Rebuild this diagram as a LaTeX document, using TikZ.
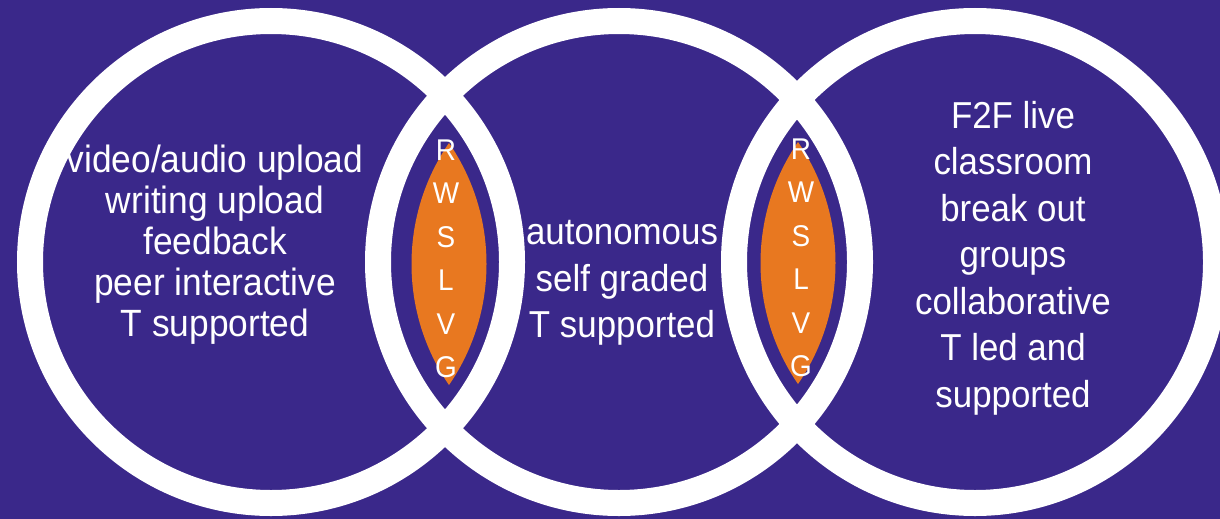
\documentclass[tikz,border=0pt]{standalone}
\usepackage{fontspec}
\setmainfont{Liberation Sans}[FakeStretch=0.93]
\definecolor{bgpurple}{RGB}{58,40,138}
\definecolor{lensorange}{RGB}{232,120,32}
\begin{document}
\begin{tikzpicture}[x=1pt,y=-1pt,
  ring/.style={draw=white,line width=26pt},
  txt/.style={text=white,align=center,inner sep=0pt},
  bigtxt/.style={txt,font=\fontsize{38}{41}\selectfont},
  midtxt/.style={txt,font=\fontsize{37.5}{46.5}\selectfont},
  lettxt/.style={txt,font=\fontsize{30}{43.5}\selectfont}]
\fill[bgpurple] (0,0) rectangle (1220,519);
\useasboundingbox (0,0) rectangle (1220,519);
% orange lenses
\begin{scope}
  \clip (449-176.5,264) circle (214);
  \fill[lensorange] (449+176.5,264) circle (214);
\end{scope}
\begin{scope}
  \clip (798-176.5,263) circle (214);
  \fill[lensorange] (798+176.5,263) circle (214);
\end{scope}
% rings
\draw[ring] (271,262) circle (241);
\draw[ring] (619,262) circle (241);
\draw[ring] (975,262) circle (241);
% texts
\node[bigtxt] (lefttext) at (215,245) {video/audio upload\\writing upload\\feedback\\peer interactive\\T supported};
\node[midtxt] (midtext) at (622,283) {autonomous\\self graded\\T supported};
\node[midtxt] (righttext) at (1013,258) {F2F live\\classroom\\break out\\groups\\collaborative\\T led and\\supported};
\node[lettxt] (leftletters) at (446,259) {R\\W\\S\\L\\V\\G};
\node[lettxt] (rightletters) at (801,258) {R\\W\\S\\L\\V\\G};
\end{tikzpicture}
\end{document}
